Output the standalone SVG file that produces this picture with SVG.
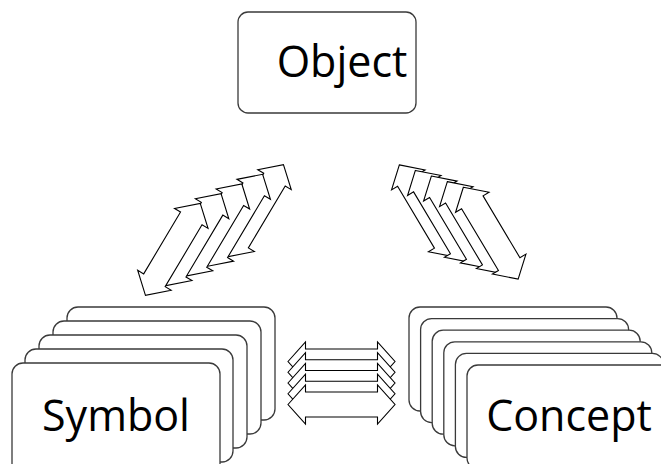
<svg xmlns="http://www.w3.org/2000/svg" width="661" height="464" viewBox="0 0 661 464">
<style>
.card{fill:#fff;stroke:#3a3a3a;stroke-width:1.3}
.arr{fill:#fff;stroke:#000;stroke-width:1.1;stroke-linejoin:miter}
.lbl{font-family:"Open Sans","Liberation Sans",sans-serif;font-size:43px;fill:#000}
</style>
<defs>
<path id="dbl" d="M-53.5,0 L-36,-19.5 L-36,-12.5 L36,-12.5 L36,-19.5 L53.5,0 L36,19.5 L36,12.5 L-36,12.5 L-36,19.5 Z"/>
</defs>
<rect width="661" height="464" fill="#fff"/>
<g id="object">
<rect class="card" x="238" y="12" width="178" height="101" rx="10"/>
<text class="lbl" x="342" y="77" text-anchor="middle">Object</text>
</g>
<g id="symbol">
<rect class="card" x="67" y="307" width="208" height="113" rx="11"/>
<rect class="card" x="53" y="321" width="208" height="113" rx="11"/>
<rect class="card" x="39" y="335" width="208" height="113" rx="11"/>
<rect class="card" x="25" y="349" width="208" height="113" rx="11"/>
<rect class="card" x="12" y="363" width="208" height="113" rx="11"/>
<text class="lbl" x="116" y="431" text-anchor="middle">Symbol</text>
</g>
<g id="concept">
<rect class="card" x="409" y="307" width="208" height="104" rx="11"/>
<rect class="card" x="420.6" y="318.6" width="208" height="104" rx="11"/>
<rect class="card" x="432.2" y="330.2" width="208" height="104" rx="11"/>
<rect class="card" x="443.8" y="341.8" width="208" height="104" rx="11"/>
<rect class="card" x="455.4" y="353.4" width="208" height="104" rx="11"/>
<rect class="card" x="467" y="365" width="208" height="104" rx="11"/>
<text class="lbl" x="569" y="431" text-anchor="middle">Concept</text>
</g>
<g id="connectors">
<g id="symbol-object">
<use href="#dbl" class="arr" transform="translate(256.05,210.55) rotate(-59.2)"/>
<use href="#dbl" class="arr" transform="translate(235.25,220.25) rotate(-59.2)"/>
<use href="#dbl" class="arr" transform="translate(214.45,229.95) rotate(-59.2)"/>
<use href="#dbl" class="arr" transform="translate(193.65,239.65) rotate(-59.2)"/>
<use href="#dbl" class="arr" transform="translate(172.85,249.35) rotate(-59.2)"/>
</g>
<g id="concept-object">
<use href="#dbl" class="arr" transform="translate(426.75,210.8) rotate(59.2)"/>
<use href="#dbl" class="arr" transform="translate(442.75,216.4) rotate(59.2)"/>
<use href="#dbl" class="arr" transform="translate(458.75,222) rotate(59.2)"/>
<use href="#dbl" class="arr" transform="translate(474.75,227.6) rotate(59.2)"/>
<use href="#dbl" class="arr" transform="translate(490.75,233.2) rotate(59.2)"/>
</g>
<g id="symbol-concept">
<use href="#dbl" class="arr" transform="translate(341.5,361.5)"/>
<use href="#dbl" class="arr" transform="translate(341.5,372.25)"/>
<use href="#dbl" class="arr" transform="translate(341.5,383)"/>
<use href="#dbl" class="arr" transform="translate(341.5,393.75)"/>
<use href="#dbl" class="arr" transform="translate(341.5,404.5)"/>
</g>
</g>
</svg>
